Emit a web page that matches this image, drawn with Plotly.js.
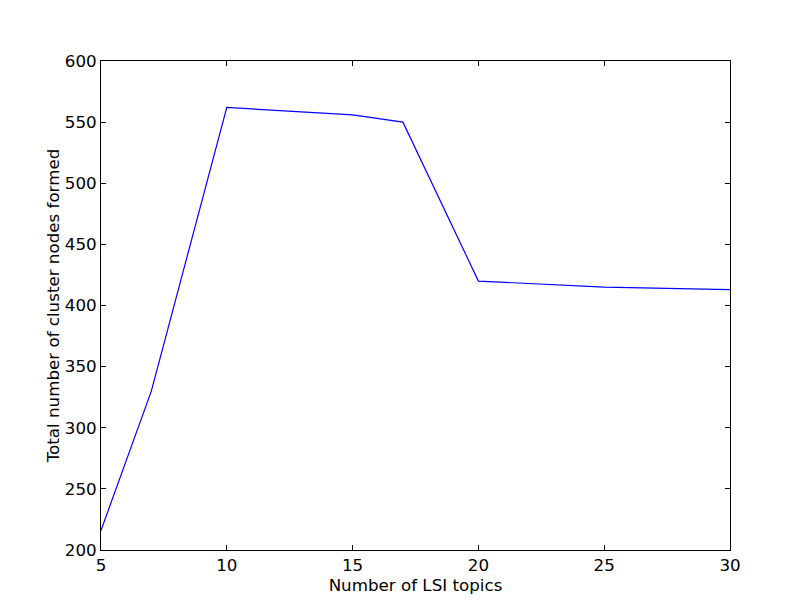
<!DOCTYPE html>
<html><head><meta charset="utf-8">
<script src="https://cdn.plot.ly/plotly-3.0.1.min.js"></script>
<style>html,body{margin:0;padding:0;background:#fff}</style>
</head><body><div id="chart" style="width:812px;height:612px"></div>
<script>
const topics = [5, 7, 10, 15, 17, 20, 25, 30];
const clusterNodes = [216, 330, 562, 556, 550, 420, 415, 413];
const xTicks = [5, 10, 15, 20, 25, 30];
const yTicks = [200, 250, 300, 350, 400, 450, 500, 550, 600];

const fnt = {family: 'DejaVu Sans', size: 16.7, color: '#000'};
const axisCommon = {
  showgrid: false, zeroline: false, showline: true, linecolor: '#000', linewidth: 1,
  mirror: 'ticks', ticks: 'inside', ticklen: 5, tickcolor: '#000', tickwidth: 1,
  tickfont: fnt
};
Plotly.newPlot('chart', [{
  x: topics, y: clusterNodes, type: 'scatter', mode: 'lines',
  line: {color: '#0000ff', width: 1.2}
}], {
  width: 812, height: 612,
  margin: {l: 101, r: 82, t: 61, b: 62},
  paper_bgcolor: '#fff', plot_bgcolor: '#fff',
  showlegend: false,
  xaxis: Object.assign({}, axisCommon, {range: [5, 30], tickvals: xTicks,
    title: {text: 'Number of LSI topics', font: fnt, standoff: 2}}),
  yaxis: Object.assign({}, axisCommon, {range: [200, 600], tickvals: yTicks,
    title: {text: 'Total number of cluster nodes formed', font: fnt, standoff: 0}})
}, {displayModeBar: false});
</script></body></html>
